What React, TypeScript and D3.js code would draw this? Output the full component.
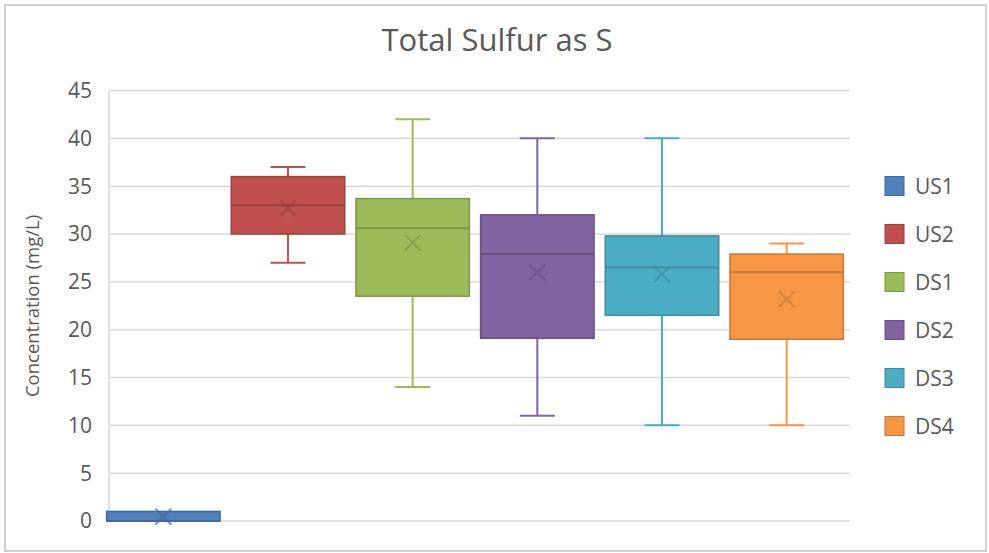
import React from 'react';
import * as d3 from 'd3';

// box plot stats (mg/L)
const categories = ['US1', 'US2', 'DS1', 'DS2', 'DS3', 'DS4'];
const minVals = [0, 27, 14, 11, 10, 10];
const q1Vals = [0, 30, 23.5, 19.1, 21.5, 19];
const medianVals = [0, 33, 30.6, 27.9, 26.5, 26];
const q3Vals = [1, 36, 33.7, 32, 29.8, 27.9];
const maxVals = [1, 37, 42, 40, 40, 29];
const meanVals = [0.45, 32.7, 29.1, 26, 25.8, 23.2];
const colors = ['#4f81bd', '#c0504d', '#9bbb59', '#8064a2', '#4bacc6', '#f79646'];
const yTicks = [0, 5, 10, 15, 20, 25, 30, 35, 40, 45];

const W = 989;
const H = 553;
const FONT = "'Open Sans', 'Noto Sans', sans-serif";
const TEXT = '#595959';
const GRID = '#d9d9d9';

const App = () => {
    const x = d3.scaleBand().domain(categories).range([101, 849]).padding(0);
    const y = d3.scaleLinear().domain([0, 45]).range([521, 90.5]);
    const plotLeft = 109;
    const plotRight = 850;

    const boxW = x.bandwidth() * 0.91;
    const capW = 35;

    const legendY = d3.scalePoint().domain(categories).range([186, 426]);

    return (
        <div style={{ position: 'absolute', left: 0, top: 0 }}>
            <svg width={W} height={H} style={{ display: 'block', background: '#fff' }}>
                <rect x={5} y={5} width={981} height={546} fill="#fff" stroke="#d0d0d0" strokeWidth={2} />

                <text x={497} y={51} textAnchor="middle" fontFamily={FONT} fontSize={31} fill={TEXT}>
                    Total Sulfur as S
                </text>

                {/* gridlines */}
                {yTicks.map((t) => (
                    <g key={t}>
                        <line x1={plotLeft} x2={plotRight} y1={y(t)} y2={y(t)} stroke={GRID} strokeWidth={1.5} />
                        <text x={92} y={y(t)} dy="0.35em" textAnchor="end" fontFamily={FONT} fontSize={21} fill={TEXT}>
                            {t}
                        </text>
                    </g>
                ))}
                <line x1={plotLeft} x2={plotLeft} y1={y(45)} y2={y(0)} stroke={GRID} strokeWidth={1.5} />

                <text
                    transform={`translate(39,306) rotate(-90)`}
                    textAnchor="middle"
                    fontFamily={FONT}
                    fontSize={18.5}
                    fill={TEXT}
                >
                    Concentration (mg/L)
                </text>

                {/* boxes */}
                {categories.map((c, i) => {
                    const cx = (x(c) as number) + x.bandwidth() / 2;
                    const col = colors[i];
                    const dark = d3.color(col)!.darker(0.6).formatHex();
                    const top = y(q3Vals[i]);
                    const bot = y(q1Vals[i]);
                    const m = 8;
                    const my = y(meanVals[i]);
                    return (
                        <g key={c}>
                            {maxVals[i] > q3Vals[i] && (
                                <>
                                    <line x1={cx} x2={cx} y1={y(maxVals[i])} y2={top} stroke={col} strokeWidth={2} />
                                    <line x1={cx - capW / 2} x2={cx + capW / 2} y1={y(maxVals[i])} y2={y(maxVals[i])} stroke={col} strokeWidth={2} />
                                </>
                            )}
                            {minVals[i] < q1Vals[i] && (
                                <>
                                    <line x1={cx} x2={cx} y1={bot} y2={y(minVals[i])} stroke={col} strokeWidth={2} />
                                    <line x1={cx - capW / 2} x2={cx + capW / 2} y1={y(minVals[i])} y2={y(minVals[i])} stroke={col} strokeWidth={2} />
                                </>
                            )}
                            <rect
                                x={cx - boxW / 2}
                                y={top}
                                width={boxW}
                                height={bot - top}
                                fill={col}
                                stroke={dark}
                                strokeWidth={1.5}
                            />
                            <line x1={cx - boxW / 2} x2={cx + boxW / 2} y1={y(medianVals[i])} y2={y(medianVals[i])} stroke={dark} strokeWidth={2} />
                            <path
                                d={`M${cx - m},${my - m}L${cx + m},${my + m}M${cx - m},${my + m}L${cx + m},${my - m}`}
                                stroke={dark}
                                strokeWidth={2}
                                strokeOpacity={0.7}
                                fill="none"
                            />
                        </g>
                    );
                })}

                {/* legend */}
                {categories.map((c, i) => {
                    const ly = legendY(c) as number;
                    return (
                        <g key={c}>
                            <rect
                                x={885}
                                y={ly - 9.5}
                                width={19}
                                height={19}
                                fill={colors[i]}
                                stroke={d3.color(colors[i])!.darker(0.6).formatHex()}
                                strokeWidth={1}
                            />
                            <text x={915} y={ly} dy="0.36em" fontFamily={FONT} fontSize={21} fill={TEXT}>
                                {c}
                            </text>
                        </g>
                    );
                })}
            </svg>
        </div>
    );
};

export default App;
